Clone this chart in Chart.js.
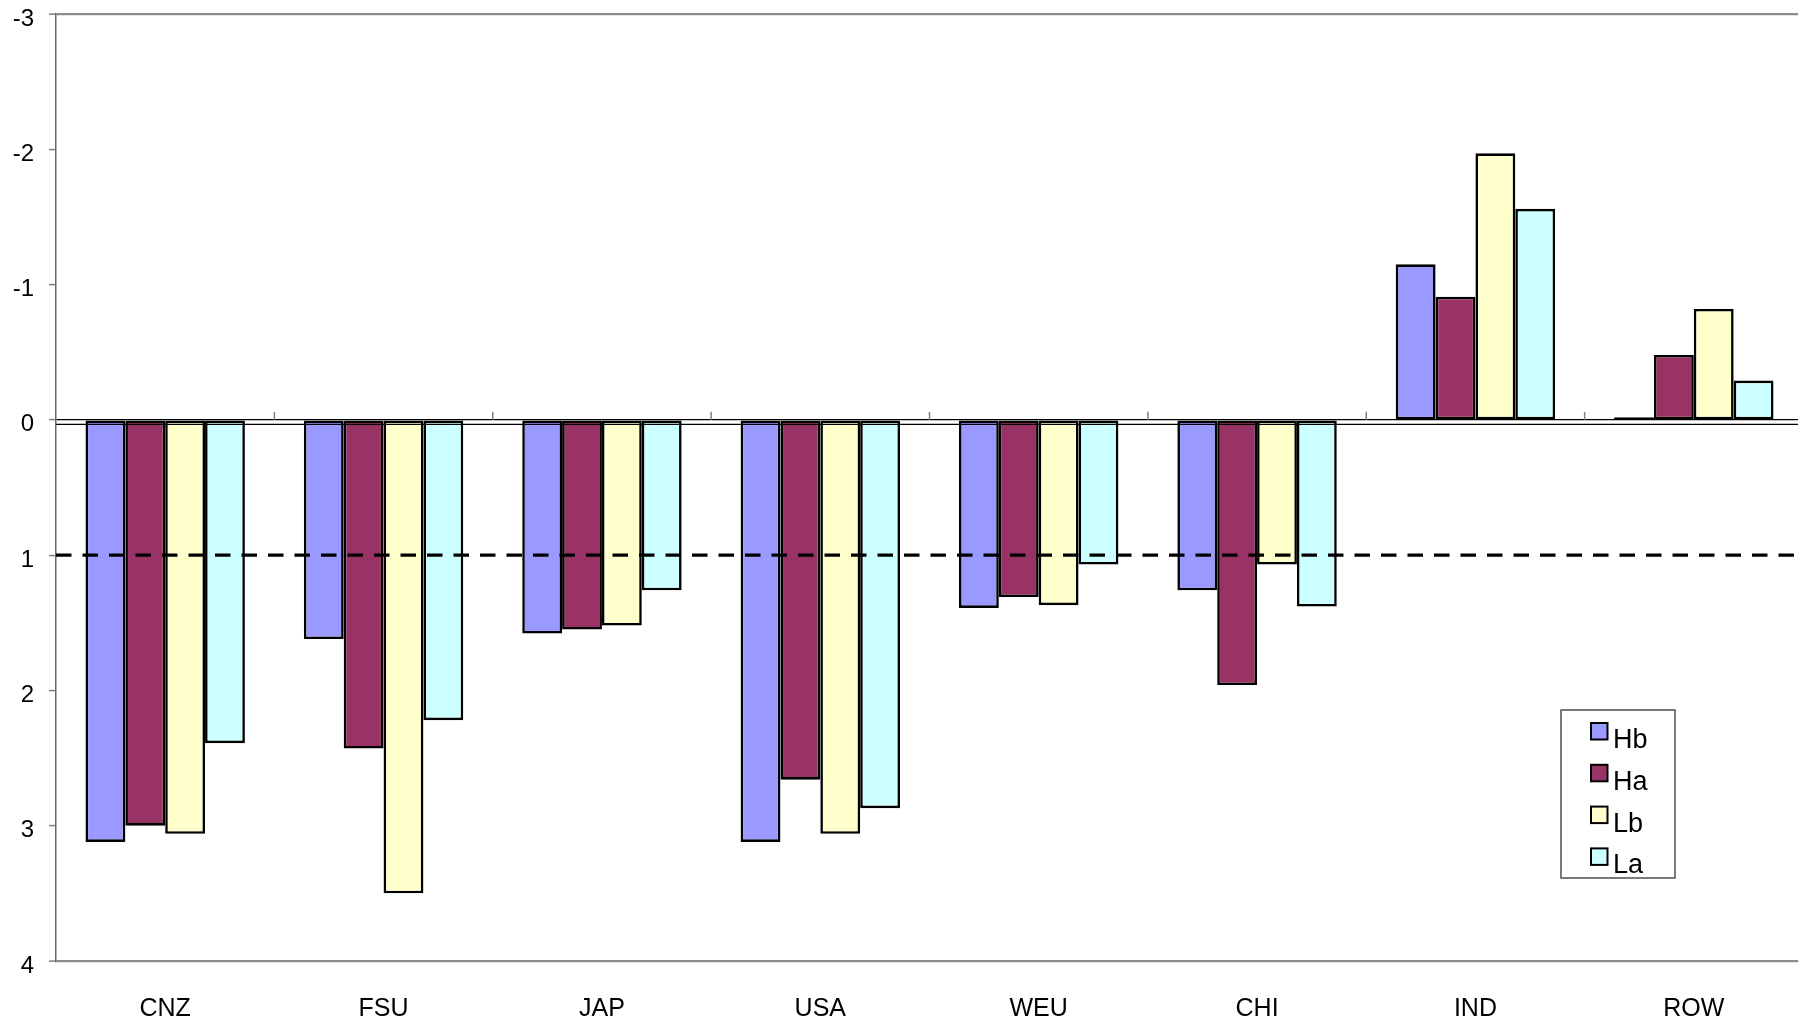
<!DOCTYPE html>
<html>
<head>
<meta charset="utf-8">
<script src="https://cdn.jsdelivr.net/npm/chart.js@4.4.1/dist/chart.umd.min.js"></script>
<style>
  html, body { margin: 0; padding: 0; background: #fff; overflow: hidden; }
  #wrap { width: 1803px; height: 1022px; }
</style>
</head>
<body>
<div id="wrap"><canvas id="myChart" width="1803" height="1022"></canvas></div>
<script>
// data
const regions = ['CNZ', 'FSU', 'JAP', 'USA', 'WEU', 'CHI', 'IND', 'ROW'];
const hb = [3.12, 1.62, 1.58, 3.12, 1.39, 1.26, -1.15, -0.02];
const ha = [3.00, 2.43, 1.55, 2.66, 1.31, 1.96, -0.91, -0.48];
const lb = [3.06, 3.50, 1.52, 3.06, 1.37, 1.07, -1.97, -0.82];
const la = [2.39, 2.22, 1.26, 2.87, 1.07, 1.38, -1.56, -0.29];
const seriesNames = ['Hb', 'Ha', 'Lb', 'La'];
const yTicks = [-3, -2, -1, 0, 1, 2, 3, 4];
const refLine = 1;

const colors = ['#9999FF', '#993366', '#FFFFCC', '#CCFFFF'];
const font = 'Liberation Sans, Arial, sans-serif';

// dashed ref line, double zero line, category ticks, legend box
const extras = {
  id: 'extras',
  afterDatasetsDraw(chart) {
    const c = chart.ctx, a = chart.chartArea;
    const x = chart.scales.x, y = chart.scales.y;
    const y0 = y.getPixelForValue(0);
    c.save();

    // second line under zero
    c.strokeStyle = '#000';
    c.lineWidth = 1.2;
    c.beginPath();
    c.moveTo(a.left, y0 + 4.5);
    c.lineTo(a.right, y0 + 4.5);
    c.stroke();

    // tick marks between categories
    c.strokeStyle = '#808080';
    c.lineWidth = 1.5;
    for (let i = 0; i < regions.length - 1; i++) {
      const xb = (x.getPixelForValue(i) + x.getPixelForValue(i + 1)) / 2;
      c.beginPath();
      c.moveTo(xb, y0);
      c.lineTo(xb, y0 - 8);
      c.stroke();
    }

    // dashed line
    const yr = y.getPixelForValue(refLine);
    c.strokeStyle = '#000';
    c.lineWidth = 3.3;
    c.setLineDash([15.5, 11]);
    c.beginPath();
    c.moveTo(a.left, yr);
    c.lineTo(a.right, yr);
    c.stroke();
    c.setLineDash([]);

    // legend
    const bx = 1561, by = 710, bw = 114, bh = 168;
    c.fillStyle = '#fff';
    c.fillRect(bx, by, bw, bh);
    c.strokeStyle = '#333';
    c.lineWidth = 1.3;
    c.strokeRect(bx, by, bw, bh);
    c.font = '27px ' + font;
    c.textBaseline = 'alphabetic';
    chart.data.datasets.forEach((ds, i) => {
      const sy = 723 + i * 41.8;
      c.fillStyle = ds.backgroundColor;
      c.fillRect(1591, sy, 16.5, 16.5);
      c.strokeStyle = '#000';
      c.lineWidth = 2;
      c.strokeRect(1591, sy, 16.5, 16.5);
      c.fillStyle = '#000';
      c.fillText(ds.label, 1613, sy + 25);
    });
    c.restore();
  }
};

const datasets = [hb, ha, lb, la].map((d, i) => ({
  label: seriesNames[i],
  data: d,
  backgroundColor: colors[i],
  borderColor: '#000',
  borderWidth: 2.6,
  borderSkipped: false,
  barPercentage: 1,
  categoryPercentage: 0.73
}));

const ctx = document.getElementById('myChart');
new Chart(ctx, {
  type: 'bar',
  data: { labels: regions, datasets: datasets },
  options: {
    responsive: false,
    animation: false,
    devicePixelRatio: 1,
    layout: { padding: { top: 14, right: 0, bottom: 0, left: 0 } },
    plugins: {
      legend: { display: false },
      tooltip: { enabled: false }
    },
    scales: {
      x: {
        grid: { display: false, drawTicks: false },
        border: { display: false },
        ticks: { color: '#000', padding: 33, font: { size: 25, family: font } },
        afterFit: s => { s.height = 61; s.paddingLeft = 0; s.paddingRight = 0; }
      },
      y: {
        reverse: true,
        min: yTicks[0],
        max: yTicks[yTicks.length - 1],
        afterBuildTicks: s => { s.ticks = yTicks.map(v => ({ value: v })); },
        grid: {
          color: g => {
            const v = g.tick && g.tick.value;
            if (v === 0) return '#000';
            if (v === yTicks[0] || v === yTicks[yTicks.length - 1]) return '#8c8c8c';
            return 'rgba(0,0,0,0)';
          },
          lineWidth: g => (g.tick && (g.tick.value === yTicks[0] || g.tick.value === yTicks[yTicks.length - 1])) ? 2.2 : 1.2,
          tickColor: '#808080',
          tickLength: 7,
          tickWidth: 1.5
        },
        border: { display: true, color: '#666', width: 1.5 },
        ticks: { color: '#000', padding: 15, labelOffset: 5, font: { size: 24, family: font } },
        afterFit: s => { s.width = 56; s.paddingTop = 0; s.paddingBottom = 0; }
      }
    }
  },
  plugins: [extras]
});
</script>
</body>
</html>
